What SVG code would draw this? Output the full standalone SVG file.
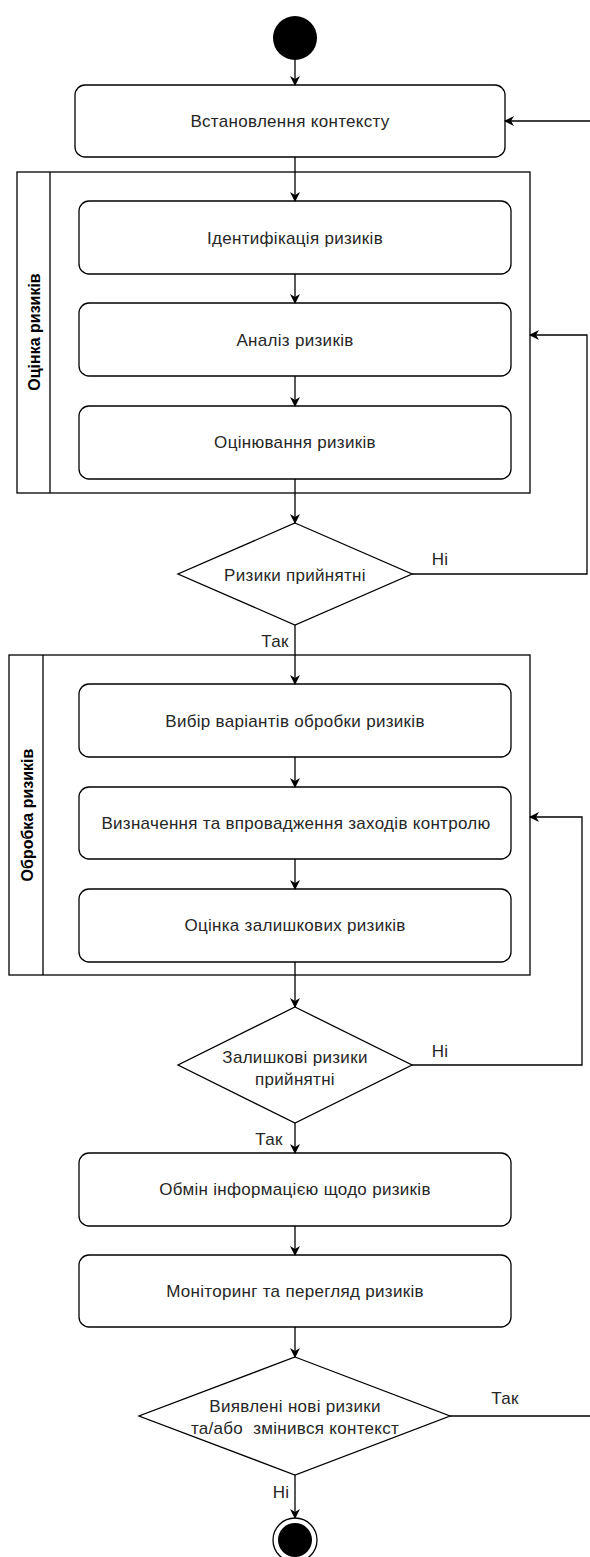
<svg xmlns="http://www.w3.org/2000/svg" width="590" height="1557" viewBox="0 0 590 1557">
<style>
.box{fill:#fff;stroke:#000;stroke-width:1.3}
.lane{fill:none;stroke:#000;stroke-width:1.3}
.t{font-family:"Liberation Sans",Arial,sans-serif;font-size:17px;letter-spacing:0.3px;fill:#262626;text-anchor:middle;dominant-baseline:central;white-space:pre}
.lt{font-family:"Liberation Sans",Arial,sans-serif;font-size:16px;font-weight:bold;fill:#000;text-anchor:middle;dominant-baseline:central}
.c{fill:none;stroke:#000;stroke-width:1.3}
</style>
<defs>
<marker id="ar" viewBox="0 0 10 10" refX="9" refY="5" markerWidth="10" markerHeight="10" markerUnits="userSpaceOnUse" orient="auto">
<path d="M0,0 L10,5 L0,10 L3,5 Z" fill="#000"/>
</marker>
</defs>
<rect width="590" height="1557" fill="#fff"/>
<g id="lane1">
<rect class="lane" x="17" y="172" width="513" height="321"/>
<line class="lane" x1="50" y1="172" x2="50" y2="493"/>
<text class="lt" transform="translate(34,332) rotate(-90)">Оцінка ризиків</text>
</g>
<g id="lane2">
<rect class="lane" x="9" y="655" width="521" height="320"/>
<line class="lane" x1="43" y1="655" x2="43" y2="975"/>
<text class="lt" transform="translate(27,815) rotate(-90)">Обробка ризиків</text>
</g>
<g id="start"><circle cx="295" cy="38" r="22" fill="#000"/></g>
<g id="n1"><rect class="box" x="75" y="85" width="430" height="72" rx="10"/><text class="t" x="290" y="121">Встановлення контексту</text></g>
<g id="n2"><rect class="box" x="79" y="201" width="432" height="73" rx="10"/><text class="t" x="295" y="238">Ідентифікація ризиків</text></g>
<g id="n3"><rect class="box" x="79" y="303" width="432" height="73" rx="10"/><text class="t" x="295" y="340">Аналіз ризиків</text></g>
<g id="n4"><rect class="box" x="79" y="406" width="432" height="73" rx="10"/><text class="t" x="295" y="442">Оцінювання ризиків</text></g>
<g id="d1"><polygon class="box" points="295,523 412,574 295,625 178,574"/><text class="t" x="295" y="575">Ризики прийнятні</text></g>
<g id="n5"><rect class="box" x="79" y="684" width="432" height="73" rx="10"/><text class="t" x="295" y="721">Вибір варіантів обробки ризиків</text></g>
<g id="n6"><rect class="box" x="79" y="787" width="432" height="72" rx="10"/><text class="t" x="296" y="823">Визначення та впровадження заходів контролю</text></g>
<g id="n7"><rect class="box" x="79" y="889" width="432" height="73" rx="10"/><text class="t" x="295" y="925">Оцінка залишкових ризиків</text></g>
<g id="d2"><polygon class="box" points="295,1007 412,1065 295,1123 178,1065"/><text class="t" x="295" y="1057">Залишкові ризики</text><text class="t" x="295" y="1079">прийнятні</text></g>
<g id="n8"><rect class="box" x="79" y="1153" width="432" height="73" rx="10"/><text class="t" x="295" y="1189">Обмін інформацією щодо ризиків</text></g>
<g id="n9"><rect class="box" x="79" y="1255" width="432" height="72" rx="10"/><text class="t" x="295" y="1291">Моніторинг та перегляд ризиків</text></g>
<g id="d3"><polygon class="box" points="295,1357 450,1416 295,1475 139,1416"/><text class="t" x="295" y="1406">Виявлені нові ризики</text><text class="t" x="295" y="1428" xml:space="preserve">та/або  змінився контекст</text></g>
<g id="end"><circle cx="295" cy="1540" r="22" fill="#fff" stroke="#000" stroke-width="1.3"/><circle cx="295" cy="1540" r="17" fill="#000"/></g>
<g id="connectors">
<line class="c" x1="295" y1="60" x2="295" y2="85" marker-end="url(#ar)"/>
<line class="c" x1="590" y1="121" x2="505" y2="121" marker-end="url(#ar)"/>
<line class="c" x1="295" y1="157" x2="295" y2="201" marker-end="url(#ar)"/>
<line class="c" x1="295" y1="274" x2="295" y2="303" marker-end="url(#ar)"/>
<line class="c" x1="295" y1="376" x2="295" y2="406" marker-end="url(#ar)"/>
<line class="c" x1="295" y1="479" x2="295" y2="523" marker-end="url(#ar)"/>
<polyline class="c" points="412,574 587,574 587,335 530,335" marker-end="url(#ar)"/>
<line class="c" x1="295" y1="625" x2="295" y2="684" marker-end="url(#ar)"/>
<line class="c" x1="295" y1="757" x2="295" y2="787" marker-end="url(#ar)"/>
<line class="c" x1="295" y1="859" x2="295" y2="889" marker-end="url(#ar)"/>
<line class="c" x1="295" y1="962" x2="295" y2="1007" marker-end="url(#ar)"/>
<polyline class="c" points="412,1065 582,1065 582,817 530,817" marker-end="url(#ar)"/>
<line class="c" x1="295" y1="1123" x2="295" y2="1153" marker-end="url(#ar)"/>
<line class="c" x1="295" y1="1226" x2="295" y2="1255" marker-end="url(#ar)"/>
<line class="c" x1="295" y1="1327" x2="295" y2="1357" marker-end="url(#ar)"/>
<line class="c" x1="450" y1="1416" x2="590" y2="1416"/>
<line class="c" x1="295" y1="1475" x2="295" y2="1518" marker-end="url(#ar)"/>
<text class="t" x="440" y="559">Ні</text>
<text class="t" x="275" y="641">Так</text>
<text class="t" x="440" y="1051">Ні</text>
<text class="t" x="269" y="1139">Так</text>
<text class="t" x="505" y="1398">Так</text>
<text class="t" x="281" y="1492">Ні</text>
</g>
</svg>
